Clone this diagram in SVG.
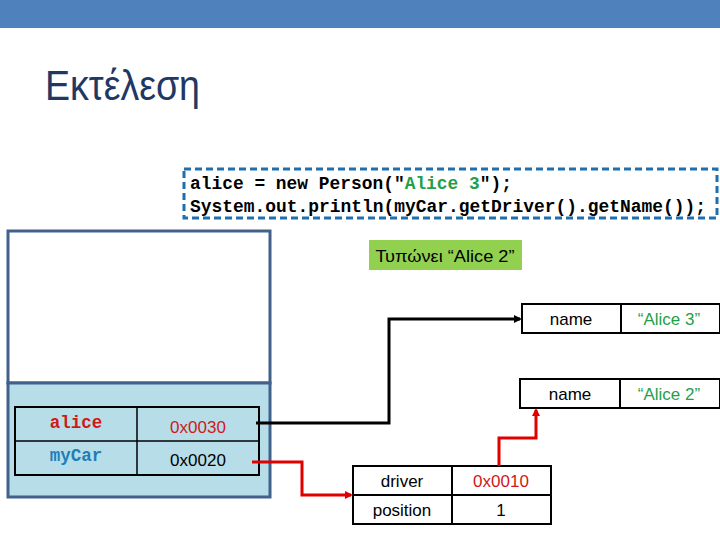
<svg xmlns="http://www.w3.org/2000/svg" width="720" height="540" viewBox="0 0 720 540">
<defs>
<style>
.cell{fill:none;stroke:#000;stroke-width:2}
.t{font-family:"Liberation Sans",Arial,sans-serif;font-size:17px;text-anchor:middle}
.mono{font-family:"Liberation Mono","Courier New",monospace;font-weight:bold;font-size:17.5px}
.blk{fill:none;stroke:#000;stroke-width:3}
.red{fill:none;stroke:#E00000;stroke-width:3}
</style>
<marker id="ab" markerWidth="8" markerHeight="8" refX="6" refY="4" orient="auto" markerUnits="userSpaceOnUse"><path d="M0,0L8,4L0,8z" fill="#000"/></marker>
<marker id="ar" markerWidth="8" markerHeight="8" refX="6" refY="4" orient="auto" markerUnits="userSpaceOnUse"><path d="M0,0L8,4L0,8z" fill="#E00000"/></marker>
</defs>
<rect x="0" y="0" width="720" height="28" fill="#4F81BD"/>
<text x="45" y="100" font-family="Liberation Sans,Arial,sans-serif" font-size="42" fill="#1F3864" textLength="155" lengthAdjust="spacingAndGlyphs">Εκτέλεση</text>
<g id="code">
<rect x="184" y="169" width="533" height="49" fill="none" stroke="#1F6FAF" stroke-width="3" stroke-dasharray="7,4"/>
<text x="190" y="189" class="mono" fill="#000" textLength="322" lengthAdjust="spacingAndGlyphs">alice = new Person("<tspan fill="#1FA04A">Alice 3</tspan>");</text>
<text x="190" y="212" class="mono" fill="#000" textLength="516" lengthAdjust="spacingAndGlyphs">System.out.println(myCar.getDriver().getName());</text>
</g>
<g id="frame">
<rect x="8" y="231" width="262" height="152" fill="#fff" stroke="#41618B" stroke-width="3"/>
<rect x="8" y="383" width="262" height="114" fill="#B7DDE8" stroke="#41618B" stroke-width="3"/>
<rect x="15" y="407" width="244" height="68" class="cell" stroke-width="1.5"/>
<line x1="15" y1="441" x2="259" y2="441" stroke="#000" stroke-width="1.5"/>
<line x1="137" y1="407" x2="137" y2="475" stroke="#000" stroke-width="1.5"/>
<text x="76" y="428" class="mono" fill="#D01818" text-anchor="middle">alice</text>
<text x="76" y="461" class="mono" fill="#1F7EB8" text-anchor="middle">myCar</text>
<text x="198" y="433" class="t" fill="#D01818">0x0030</text>
<text x="198" y="466" class="t" fill="#000">0x0020</text>
</g>
<g id="output">
<rect x="369" y="240" width="153" height="30" fill="#92D050"/>
<text x="445" y="262" class="t" fill="#000" textLength="139" lengthAdjust="spacingAndGlyphs">Τυπώνει “Alice 2”</text>
</g>
<g id="person3">
<rect x="522" y="304" width="198" height="29" class="cell"/>
<line x1="621" y1="304" x2="621" y2="333" stroke="#000" stroke-width="2"/>
<text x="571" y="325" class="t" fill="#000">name</text>
<text x="669" y="325" class="t" fill="#1FA04A">“Alice 3”</text>
</g>
<g id="person2">
<rect x="520" y="379" width="200" height="29" class="cell"/>
<line x1="620" y1="379" x2="620" y2="408" stroke="#000" stroke-width="2"/>
<text x="570" y="400" class="t" fill="#000">name</text>
<text x="669" y="400" class="t" fill="#1FA04A">“Alice 2”</text>
</g>
<g id="car">
<rect x="353" y="466" width="198" height="58" class="cell"/>
<line x1="353" y1="495" x2="551" y2="495" stroke="#000" stroke-width="2"/>
<line x1="452" y1="466" x2="452" y2="524" stroke="#000" stroke-width="2"/>
<text x="402" y="487" class="t" fill="#000">driver</text>
<text x="501" y="487" class="t" fill="#D01818">0x0010</text>
<text x="402" y="516" class="t" fill="#000">position</text>
<text x="501" y="516" class="t" fill="#000">1</text>
</g>
<g id="connectors">
<path d="M256,423H389V319H520" class="blk" marker-end="url(#ab)"/>
<path d="M252,462H302V495H351" class="red" marker-end="url(#ar)"/>
<path d="M499,466V438H536V410" class="red" marker-end="url(#ar)"/>
</g>
</svg>
